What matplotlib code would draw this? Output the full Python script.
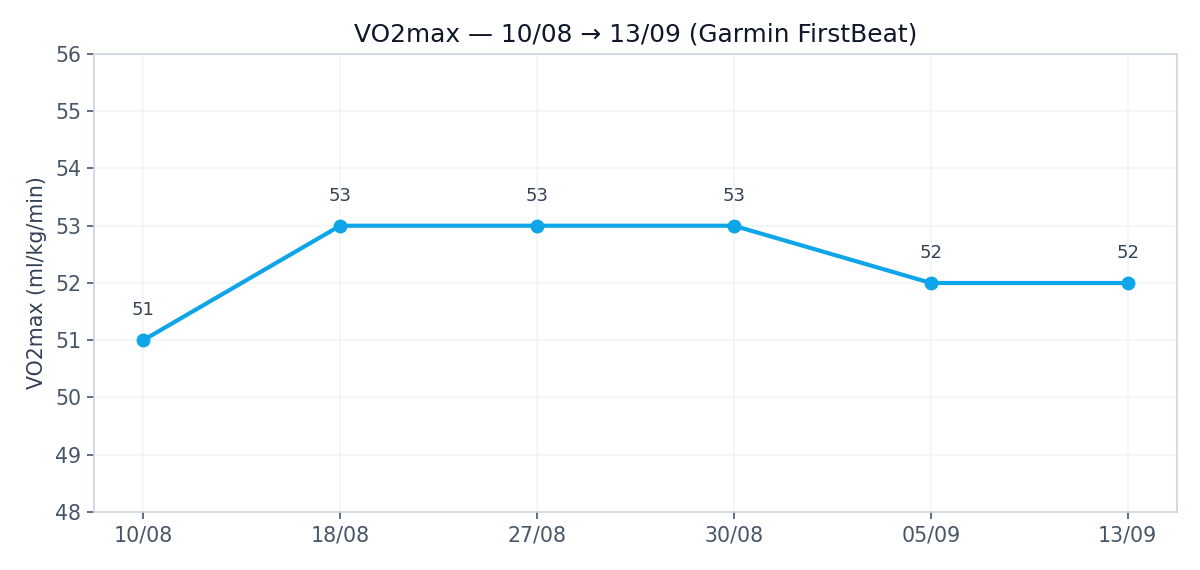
import matplotlib
matplotlib.use("Agg")
import matplotlib.pyplot as plt

dates = ["10/08", "18/08", "27/08", "30/08", "05/09", "13/09"]
vo2max = [51, 53, 53, 53, 52, 52]
yticks = [48, 49, 50, 51, 52, 53, 54, 55, 56]

fig = plt.figure(figsize=(12, 5.7), dpi=100)
ax = fig.add_axes([0.0783, 0.1018, 0.9025, 0.8035])

x = list(range(len(dates)))
ax.plot(x, vo2max, color="#0ea5e9", lw=3, marker="o", ms=9, zorder=3)
for xi, v in zip(x, vo2max):
    ax.annotate(f"{v}", (xi, v), xytext=(0, 15), textcoords="offset points",
                ha="center", va="bottom", fontsize=13, color="#334155")

ax.set_xlim(-0.25, len(dates) - 0.75)
ax.set_ylim(48, 56)
ax.set_xticks(x)
ax.set_xticklabels(dates)
ax.set_yticks(yticks)
ax.grid(True, color="#f1f5f9", lw=1.2)
ax.set_axisbelow(True)
for s in ax.spines.values():
    s.set_color("#cbd5e1")
    s.set_linewidth(1.2)
ax.tick_params(colors="#475569", labelsize=14.8, length=5, width=1.2)
ax.tick_params(axis="x", pad=5)
ax.tick_params(axis="y", pad=4)
ax.set_ylabel("VO2max (ml/kg/min)", fontsize=14.8, color="#334155", labelpad=6)
ax.set_title("VO2max — 10/08 → 13/09 (Garmin FirstBeat)", fontsize=17.9, color="#0f172a", pad=9)

fig.savefig("out.png", dpi=100)
